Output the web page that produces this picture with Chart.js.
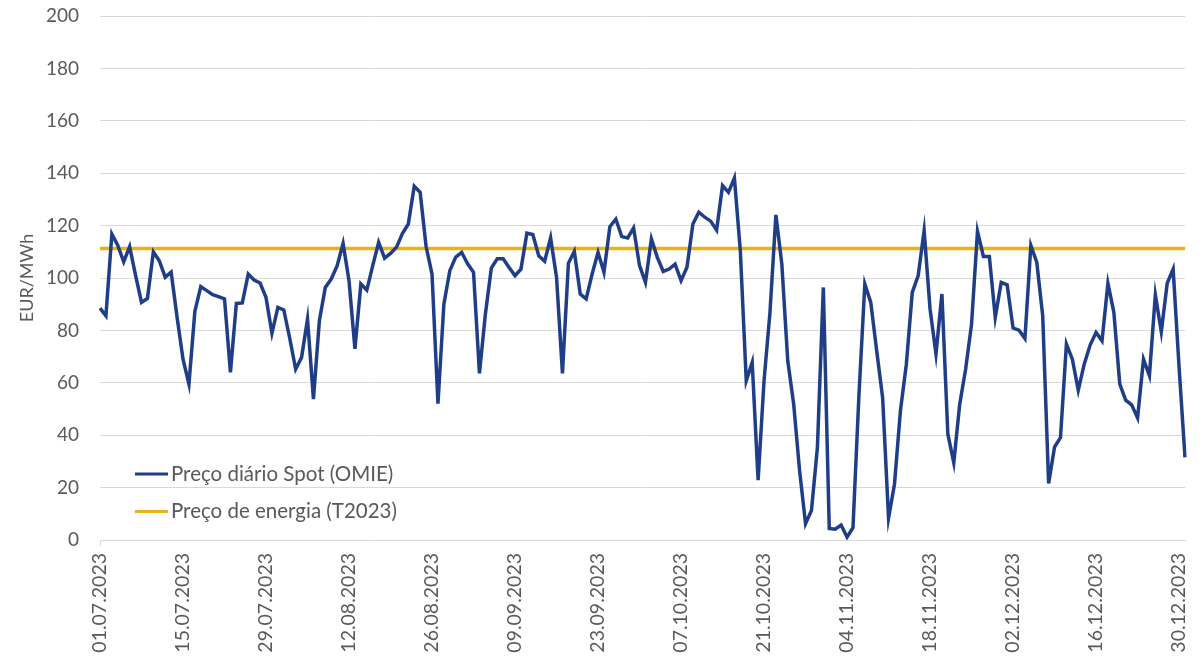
<!DOCTYPE html>
<html>
<head>
<meta charset="utf-8">
<script src="https://cdn.jsdelivr.net/npm/chart.js@4.4.0/dist/chart.umd.min.js"></script>
<style>
  html, body { margin: 0; padding: 0; background: #ffffff; }
  #wrap { width: 1203px; height: 657px; }
</style>
</head>
<body>
<div id="wrap"><canvas id="priceChart" width="1203" height="657"></canvas></div>
<script>
// daily categories 01.07.2023 .. 31.12.2023
const firstDay = "2023-07-01";
const dayCount = 184;
const tickEvery = 14;

const spotOmie = [
    88.5, 85.6, 116.8, 112.4, 106.2, 112, 101, 90.7, 92.2, 110,
    106.6, 100.3, 102.2, 85, 69, 59.5, 87.3, 96.7, 95.2, 93.6,
    92.9, 92, 64, 90.3, 90.5, 101.5, 99.2, 98.1, 92.6, 78.9,
    88.8, 87.8, 77, 65.2, 69.7, 84.3, 53.8, 83.7, 96.4, 99.6,
    104.7, 113.2, 99, 73, 97.7, 95.4, 104.7, 113.6, 107.6, 109.4,
    111.7, 117, 120.6, 135, 132.7, 112, 101.5, 52, 90, 102.8,
    108, 109.8, 105.4, 102.2, 63.6, 86.2, 103.8, 107.3, 107.3, 104,
    100.9, 103.4, 117.1, 116.6, 108.5, 106.4, 115.3, 100.3, 63.6, 105.6,
    110.2, 93.9, 92, 101.5, 109.8, 102.2, 119.6, 122.5, 115.8, 115.3,
    119.1, 104.7, 98.3, 114.9, 107.9, 102.5, 103.4, 105.3, 99, 104.1,
    120.6, 125.1, 123.2, 121.7, 118.3, 135.3, 132.7, 138.2, 110.4, 60.8,
    67.8, 22.8, 60.8, 86.9, 124.1, 105.3, 68.4, 51.8, 26.4, 6.2,
    11.3, 35.3, 96.4, 4.4, 4.1, 5.7, 1.1, 4.7, 55, 97.7,
    90.7, 72.2, 54.3, 8.4, 21.3, 49.3, 67.1, 94.5, 100.9, 118.1,
    88.1, 71, 93.9, 40.4, 29.5, 51.8, 65.2, 82.4, 117.8, 108.2,
    108.2, 85, 98.3, 97.4, 80.9, 80.1, 76.9, 112.4, 106, 85.6,
    21.6, 35.5, 39.1, 74.8, 69, 57.2, 67.1, 74.4, 79.2, 76,
    98, 86.9, 59.5, 53.4, 51.6, 46.6, 69, 62.7, 93.6, 79.5,
    98, 103.4, 66, 31.5
];

const tarifaT2023 = 111.3;

const seriesNames = ["Preço diário Spot (OMIE)", "Preço de energia (T2023)"];
const seriesColors = ["#1F3E87", "#EBB214"];

const yMin = 0;
const yMax = 200;
const yStep = 20;

const pad = n => String(n).padStart(2, "0");
const days = [];
const d0 = new Date(firstDay + "T12:00:00");
for (let i = 0; i < dayCount; i++) {
    const d = new Date(d0);
    d.setDate(d0.getDate() + i);
    days.push(`${pad(d.getDate())}.${pad(d.getMonth() + 1)}.${d.getFullYear()}`);
}

const textGrey = "#595959";
const gridGrey = "#d9d9d9";
Chart.defaults.font.family = "Lato";
Chart.defaults.color = textGrey;

// legend drawn inside the plot, bottom left
const insideLegend = {
    id: "insideLegend",
    afterDraw(chart) {
        const ctx = chart.ctx;
        ctx.save();
        ctx.font = "20.5px Lato";
        ctx.textBaseline = "middle";
        ctx.textAlign = "left";
        chart.data.datasets.forEach((ds, i) => {
            const y = 474 + i * 37.5;
            ctx.strokeStyle = ds.borderColor;
            ctx.lineWidth = 3;
            ctx.beginPath();
            ctx.moveTo(135, y);
            ctx.lineTo(168, y);
            ctx.stroke();
            ctx.fillStyle = textGrey;
            ctx.fillText(ds.label, 171, y);
        });
        ctx.restore();
    }
};

new Chart(document.getElementById("priceChart"), {
    type: "line",
    data: {
        labels: days,
        datasets: [{
            label: seriesNames[0],
            data: spotOmie,
            borderColor: seriesColors[0],
            borderWidth: 3.5,
            pointRadius: 0,
            tension: 0,
            fill: false
        }, {
            label: seriesNames[1],
            data: days.map(() => tarifaT2023),
            borderColor: seriesColors[1],
            borderWidth: 3.5,
            pointRadius: 0,
            tension: 0,
            fill: false
        }]
    },
    options: {
        responsive: false,
        animation: false,
        devicePixelRatio: 1,
        layout: { padding: { top: 16, right: 18, left: 0, bottom: 0 } },
        plugins: {
            legend: { display: false },
            tooltip: { enabled: false }
        },
        scales: {
            x: {
                afterFit(scale) {
                    scale.height = 117;
                    scale.paddingLeft = 0;
                    scale.paddingRight = 0;
                },
                grid: {
                    drawOnChartArea: false,
                    drawTicks: true,
                    tickLength: 6,
                    color: c => (c.index % tickEvery === 0 ? gridGrey : "rgba(0,0,0,0)")
                },
                border: { display: true, color: gridGrey, width: 1 },
                ticks: {
                    autoSkip: false,
                    minRotation: 90,
                    maxRotation: 90,
                    padding: 7,
                    font: { size: 19.5 },
                    color: textGrey,
                    callback(value, index) {
                        return index % tickEvery === 0 ? this.getLabelForValue(value) : null;
                    }
                }
            },
            y: {
                min: yMin,
                max: yMax,
                afterFit(scale) {
                    scale.width = 100;
                    scale.paddingTop = 0;
                    scale.paddingBottom = 0;
                },
                grid: { color: gridGrey, lineWidth: 1, drawTicks: false },
                border: { display: false },
                ticks: {
                    stepSize: yStep,
                    padding: 21,
                    font: { size: 19 },
                    color: textGrey
                },
                title: {
                    display: true,
                    text: "EUR/MWh",
                    font: { size: 18 },
                    color: textGrey,
                    padding: { top: 16, bottom: 0 }
                }
            }
        }
    },
    plugins: [insideLegend]
});
</script>
</body>
</html>
